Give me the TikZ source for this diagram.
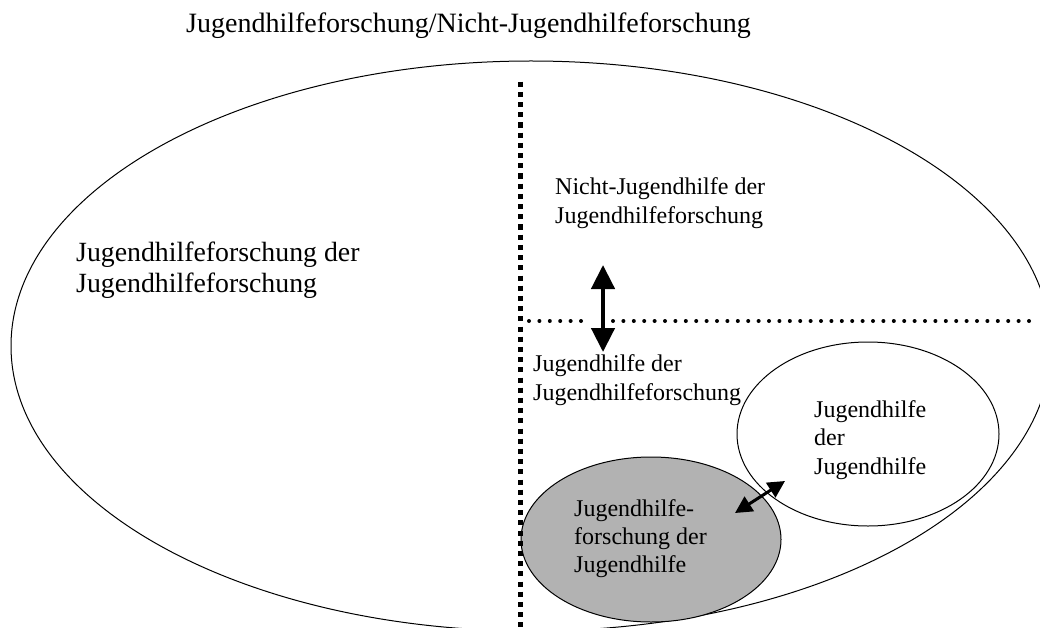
\documentclass[tikz,border=0pt]{standalone}
\usepackage{fontspec}
\setmainfont{Liberation Serif}
\usetikzlibrary{arrows.meta,shapes.geometric}
\definecolor{fieldgrey}{RGB}{178,178,178}

\begin{document}
\begin{tikzpicture}[x=1pt,y=-1pt,
  txt/.style={inner sep=0pt, anchor=base west, font=\fontsize{24}{28.5}\selectfont},
  ring/.style={draw=black, line width=1pt},
  oval/.style={ring, ellipse, inner sep=0pt},
  squaredots/.style={line width=5.8pt, dash pattern=on 5.1pt off 5.1pt},
  rounddots/.style={line width=4pt, line cap=round, dash pattern=on 0pt off 10.4pt},
  bigarrow/.style={line width=4.5pt, {Triangle[length=24pt,width=23pt]}-{Triangle[length=24pt,width=23pt]}},
  smallarrow/.style={line width=3pt, {Triangle[length=17pt,width=17pt]}-{Triangle[length=17pt,width=17pt]}}
]
\useasboundingbox (0,0) rectangle (1040,628);
\fill[white] (0,0) rectangle (1040,628);

% outer field, cut off by the page edges
\begin{scope}
  \clip (0,0) rectangle (1040,628);
  \draw[ring] (531,346) ellipse [x radius=520, y radius=285];
\end{scope}

% inner fields
\node[oval, fill=white, minimum width=262pt, minimum height=184pt] (jdj) at (868,434) {};
\node[oval, fill=fieldgrey, minimum width=260pt, minimum height=165pt] (jfj) at (651,539.5) {};

% dividing lines
\coordinate (vtopline) at (520.5,81.7);
\coordinate (vbotline) at (520.5,640);
\draw[squaredots] (vtopline) -- (vbotline);

\coordinate (hA) at (529,321);
\coordinate (hB) at (581,321);
\coordinate (hC) at (613,321);
\coordinate (hD) at (1029,321);
\draw[rounddots] (hA) -- (hB);
\draw[rounddots] (hC) -- (hD);

% exchange arrows
\coordinate (upTip) at (603,265);
\coordinate (downTip) at (603,352);
\draw[bigarrow] (upTip) -- (downTip);

\coordinate (diagA) at (735,513);
\coordinate (diagB) at (785,481);
\draw[smallarrow] (diagA) -- (diagB);

% texts
\node[txt, font=\fontsize{28}{33}\selectfont] (title) at (186,33)
  {Jugendhilfeforschung/Nicht-Jugendhilfeforschung};
\node[txt, font=\fontsize{27.8}{32}\selectfont] (leftlbl) at (76,261)
  {\vtop{\hbox{Jugendhilfeforschung der}\hbox{Jugendhilfeforschung}}};
\node[txt] (nichtlbl) at (555,195)
  {\vtop{\hbox{Nicht-Jugendhilfe der}\hbox{Jugendhilfeforschung}}};
\node[txt, font=\fontsize{24}{29}\selectfont] (jhlbl) at (533,371)
  {\vtop{\hbox{Jugendhilfe der}\hbox{Jugendhilfeforschung}}};
\node[txt, font=\fontsize{24}{28.5}\selectfont] (jdjlbl) at (814,417)
  {\vtop{\hbox{Jugendhilfe}\hbox{der}\hbox{Jugendhilfe}}};
\node[txt, font=\fontsize{24}{28}\selectfont] (jfjlbl) at (574,516)
  {\vtop{\hbox{Jugendhilfe-}\hbox{forschung der}\hbox{Jugendhilfe}}};
\end{tikzpicture}
\end{document}
